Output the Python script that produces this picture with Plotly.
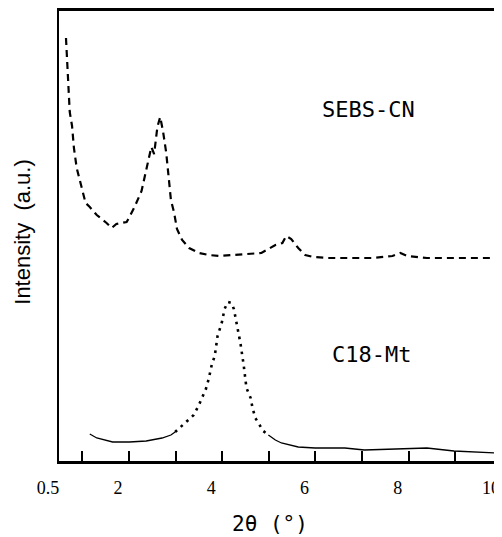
import plotly.graph_objects as go

# SEBS-CN trace (2theta in deg, intensity in arbitrary units)
sebs_x = [0.65, 0.71, 0.73, 0.78, 0.82, 0.88, 0.95, 1.07, 1.16, 1.25, 1.31, 1.52, 1.63,
          1.73, 1.84, 1.95, 2.01, 2.12, 2.27, 2.37, 2.42, 2.48, 2.54, 2.61, 2.67, 2.73,
          2.80, 2.86, 2.90, 2.97, 3.03, 3.14, 3.29, 3.50, 3.71, 3.93, 4.25, 4.56, 4.84,
          5.14, 5.29, 5.37, 5.48, 5.63, 5.78, 5.95, 6.27, 6.69, 7.22, 7.65, 7.82, 7.97,
          8.39, 9.03, 9.46, 9.88]
sebs_y = [423, 361, 349, 335, 313, 293, 279, 258, 254, 249, 246, 238, 233,
          237, 238, 239, 244, 254, 270, 291, 301, 314, 307, 334, 344, 330,
          308, 281, 261, 248, 232, 221, 213, 208, 206, 205, 206, 207, 208,
          216, 218, 225, 222, 213, 206, 204, 203, 203, 203, 205, 208, 205,
          203, 203, 203, 203]

# C18-Mt trace
c18_x = [1.16, 1.31, 1.65, 2.01, 2.37, 2.71, 2.90, 2.99, 3.18, 3.29, 3.39, 3.50, 3.59,
         3.65, 3.71, 3.78, 3.84, 3.90, 3.99, 4.05, 4.12, 4.20, 4.25, 4.31, 4.39, 4.46,
         4.52, 4.61, 4.65, 4.71, 4.80, 4.88, 4.99, 5.14, 5.27, 5.63, 5.99, 6.63, 7.05,
         7.69, 8.01, 8.39, 8.97, 9.52, 9.93]
c18_y = [27, 23, 19, 19, 20, 23, 26, 29, 37, 41, 46, 56, 66,
         72, 82, 97, 105, 125, 138, 152, 159, 158, 152, 138, 118, 96,
         73, 63, 53, 43, 36, 30, 26, 21, 18, 14, 13, 13, 11,
         12, 13, 13, 10, 9, 8]

tick_vals = [0.5, 1, 2, 3, 4, 5, 6, 7, 8, 9, 10]
tick_text = ["0.5", "", "2", "", "4", "", "6", "", "8", "", "10"]

fig = go.Figure()

fig.add_trace(go.Scatter(x=sebs_x, y=sebs_y, mode="lines",
                         line=dict(color="black", width=2.2, dash="7px,5px")))

# C18-Mt: steep peak part looks dotted in the scan, tails solid
lo, hi = 2.95, 5.0
pk = [i for i, v in enumerate(c18_x) if lo <= v <= hi]
left = [i for i, v in enumerate(c18_x) if v <= lo + 0.05]
right = [i for i, v in enumerate(c18_x) if v >= hi - 0.02]
for idx, ln in [(left, dict(color="black", width=1.3)),
                (right, dict(color="black", width=1.3)),
                (pk, dict(color="black", width=2.6, dash="2.6px,5px"))]:
    fig.add_trace(go.Scatter(x=[c18_x[i] for i in idx], y=[c18_y[i] for i in idx],
                             mode="lines", line=ln))

fig.add_annotation(x=7.13, y=352, text="SEBS-CN", showarrow=False,
                   font=dict(family="DejaVu Sans Mono", size=22, color="black"))
fig.add_annotation(x=7.21, y=107, text="C18-Mt", showarrow=False,
                   font=dict(family="DejaVu Sans Mono", size=22, color="black"))

fig.add_annotation(xref="paper", yref="paper", x=0.476, y=-0.14, text="2θ (°)",
                   xanchor="center", yanchor="middle",
                   showarrow=False, font=dict(family="DejaVu Sans Mono", size=21, color="black"))
fig.add_annotation(xref="paper", yref="paper", x=-0.083, y=0.51, textangle=-90,
                   xanchor="center", yanchor="middle",
                   text="Intensity  (a.u.)", showarrow=False,
                   font=dict(family="Liberation Sans", size=22, color="black"))

fig.update_xaxes(range=[0.5, 10], tickvals=tick_vals, ticktext=tick_text,
                 ticks="inside", ticklen=10, tickwidth=1.5, tickcolor="black",
                 ticklabelshift=-11, ticklabelstandoff=9, ticklabeloverflow="allow",
                 showline=True, linewidth=2.5, linecolor="black",
                 mirror=True, showgrid=False, zeroline=False,
                 tickfont=dict(family="Liberation Serif", size=18, color="black"))
fig.update_yaxes(range=[0, 450], showticklabels=False, ticks="", showline=True,
                 linewidth=2, linecolor="black", showgrid=False, zeroline=False)

# page body has an 8px margin, so the figure is shifted and sized to compensate
fig.update_layout(width=494, height=529, showlegend=False,
                  paper_bgcolor="white", plot_bgcolor="white",
                  margin=dict(l=51, r=0, t=3, b=76))

fig.write_html("out.html")
